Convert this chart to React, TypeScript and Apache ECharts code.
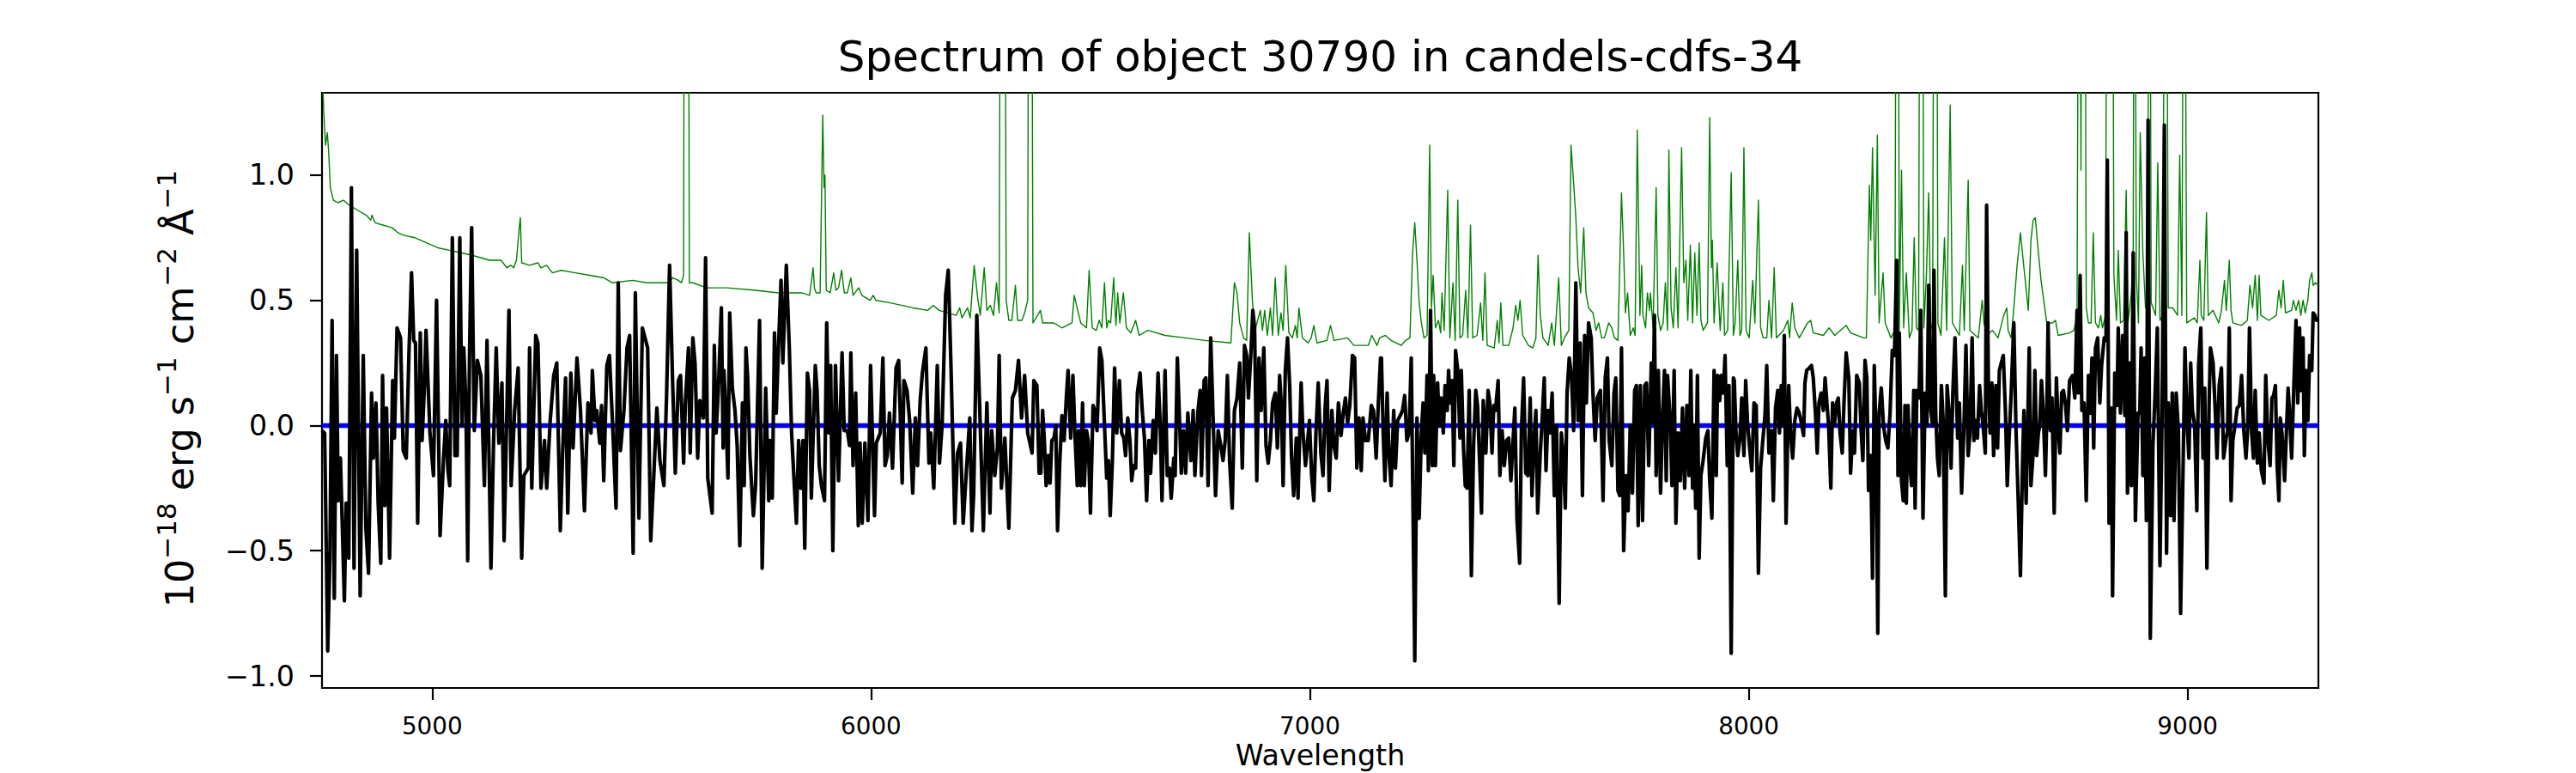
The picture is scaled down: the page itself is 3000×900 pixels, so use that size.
import React, { useEffect, useRef } from "react";
import * as echarts from "echarts";

const X_MIN = 4749;
const X_MAX = 9298;
const Y_MIN = -1.048;
const Y_MAX = 1.329;
const xTicks = [5000, 6000, 7000, 8000, 9000];
const yTicks = [-1, -0.5, 0, 0.5, 1];
const titleText = "Spectrum of object 30790 in candels-cdfs-34";
const xLabelText = "Wavelength";
const zeroLine = [[4749, 0], [9298, 0]];

const blackA = [[4749,-0.02],[4755,-0.03],[4762,-0.90],[4767,-0.53],[4772,0.42],[4777,-0.69],[4782,0.28],[4786,-0.30],[4791,-0.13],[4800,-0.70],[4804,-0.31],[4810,-0.53],[4816,0.95],[4822,-0.57],[4828,0.70],[4836,-0.68],[4843,0.28],[4849,-0.41],[4855,-0.59],[4862,0.13],[4866,-0.13],[4872,0.09],[4877,-0.31],[4883,-0.55],[4887,0.20],[4892,-0.32],[4896,0.07],[4903,-0.53],[4910,0.18],[4914,-0.05],[4920,0.39],[4928,0.35],[4934,-0.10],[4941,-0.13],[4947,0.28],[4953,0.61],[4958,0.34],[4962,0.33],[4967,-0.39],[4973,0.37],[4977,-0.06],[4982,0.14],[4986,0.38],[4995,-0.03],[5003,-0.20],[5010,0.50],[5018,-0.44],[5026,-0.13],[5031,0.02],[5036,-0.18],[5040,-0.24],[5046,0.75],[5052,-0.12],[5057,-0.12],[5063,0.75],[5068,0.00],[5072,0.31],[5077,0.09],[5081,-0.54],[5085,0.27],[5090,0.79],[5096,-0.02],[5103,0.26],[5111,0.20],[5119,-0.24],[5125,0.34],[5134,-0.57],[5140,-0.06],[5146,0.31],[5152,-0.07],[5159,0.17],[5164,-0.46],[5175,0.46],[5180,-0.24],[5188,0.06],[5196,0.23],[5204,-0.53],[5209,-0.20],[5219,-0.17],[5222,0.31],[5227,-0.25],[5236,0.36],[5241,0.33],[5248,-0.25],[5256,-0.06],[5261,-0.25],[5269,0.02],[5277,0.20],[5284,0.25],[5292,-0.42],[5297,-0.12],[5304,0.19],[5309,-0.35],[5316,0.21],[5321,-0.09],[5330,0.27],[5338,0.06],[5347,-0.34],[5355,0.09],[5362,-0.03],[5365,0.22],[5371,0.02],[5375,0.06],[5382,-0.07],[5386,0.08],[5391,-0.22],[5398,0.24],[5404,0.28],[5411,0.01],[5419,-0.33],[5424,0.57],[5429,-0.10],[5437,0.06],[5444,0.31],[5450,0.36],[5458,-0.51],[5463,0.53],[5471,-0.37],[5479,0.39],[5491,0.31],[5498,-0.46],[5504,-0.24],[5512,0.07],[5519,-0.14],[5528,-0.24],[5534,0.11],[5541,0.64],[5548,0.17],[5554,-0.19]];

const blackB = [[5561,0.18],[5566,0.20],[5573,-0.15],[5577,0.09],[5584,0.31],[5588,-0.11],[5594,0.35],[5599,0.25],[5605,-0.13],[5610,0.10],[5618,0.03],[5623,0.67],[5628,-0.21],[5638,-0.35],[5643,0.32],[5647,-0.03],[5652,0.14],[5659,0.47],[5663,-0.09],[5665,0.22],[5669,0.06],[5674,-0.21],[5678,0.45],[5684,0.15],[5690,0.06],[5695,-0.08],[5701,-0.48],[5707,0.09],[5711,-0.24],[5715,0.31],[5719,0.19],[5724,-0.12],[5732,-0.36],[5737,-0.24],[5746,0.42],[5752,-0.57],[5760,0.15],[5767,-0.30],[5770,-0.06],[5775,-0.29],[5780,0.37],[5784,0.05],[5789,0.31],[5795,0.58],[5799,0.25],[5807,0.64],[5814,0.30],[5819,-0.03],[5825,-0.23],[5830,-0.39],[5835,-0.06],[5840,-0.25],[5845,-0.06],[5849,-0.49],[5855,0.21],[5860,0.14],[5864,-0.29],[5873,0.24],[5877,0.14],[5882,-0.16],[5887,-0.24],[5894,-0.30],[5899,0.41],[5904,-0.03],[5908,0.24],[5913,-0.50],[5919,0.24],[5926,-0.22],[5934,0.29],[5939,-0.02],[5946,-0.02],[5951,-0.08],[5954,0.29],[5959,-0.16],[5965,0.13],[5971,-0.40],[5975,-0.07],[5980,-0.39],[5986,-0.07],[5993,-0.38],[5999,0.24],[6008,-0.36],[6012,-0.07],[6021,-0.03],[6027,0.27],[6032,-0.16],[6037,-0.12],[6042,0.05],[6049,-0.17],[6057,0.23],[6063,0.26],[6071,-0.23],[6075,0.18],[6082,0.14],[6088,0.02],[6095,-0.27],[6101,0.03],[6106,-0.16],[6112,0.10],[6117,0.21],[6125,0.31],[6132,-0.15],[6136,-0.03],[6143,-0.25],[6151,0.24],[6156,-0.15],[6162,0.00],[6170,0.52],[6176,0.62],[6182,0.25],[6191,-0.39],[6197,-0.11],[6204,-0.07],[6210,-0.39],[6217,-0.19],[6225,0.03],[6230,-0.42],[6234,-0.27],[6241,0.44],[6247,0.11],[6256,-0.42],[6264,0.09],[6271,-0.35],[6275,-0.02],[6282,-0.20],[6288,-0.09],[6292,0.28],[6297,-0.25],[6305,-0.05],[6314,-0.41],[6322,0.11],[6329,0.14],[6336,0.26],[6343,0.03],[6350,0.20],[6357,-0.03]];

const blackC = [[6362,-0.07],[6367,-0.11],[6371,0.18],[6378,0.16],[6383,-0.19],[6387,-0.19],[6391,0.06],[6395,-0.06],[6399,-0.24],[6404,-0.12],[6408,-0.23],[6412,-0.06],[6417,-0.05],[6421,0.0],[6425,-0.42],[6430,-0.15],[6435,0.04],[6440,-0.06],[6445,0.11],[6449,0.22],[6455,-0.05],[6460,0.20],[6465,-0.05],[6470,-0.24],[6473,-0.02],[6478,-0.24],[6482,0.09],[6486,-0.24],[6491,-0.02],[6495,-0.06],[6500,-0.35],[6506,0.08],[6510,0.06],[6515,-0.02],[6521,0.31],[6526,0.26],[6532,0.0],[6537,-0.21],[6541,-0.14],[6545,-0.36],[6550,-0.14],[6555,0.23],[6560,-0.03],[6566,0.18],[6571,-0.03],[6576,-0.05],[6580,-0.12],[6585,0.03],[6590,-0.06],[6594,-0.22],[6598,-0.16],[6603,-0.17],[6607,0.13],[6613,0.21],[6618,0.06],[6623,-0.05],[6628,-0.30],[6633,-0.06],[6637,-0.19],[6643,0.02],[6648,-0.11],[6654,0.21],[6659,0.0],[6663,-0.30],[6670,0.22],[6675,-0.20],[6680,-0.17],[6684,-0.29],[6690,-0.13],[6693,-0.20],[6698,0.27],[6703,0.02],[6707,-0.19],[6712,-0.02],[6717,-0.19],[6722,0.05],[6729,-0.14],[6734,0.06],[6738,-0.20],[6745,0.06],[6750,0.14],[6753,-0.20],[6759,0.18],[6763,0.19],[6768,-0.24],[6774,0.35],[6780,0.0],[6785,-0.28],[6791,-0.02],[6797,-0.08],[6802,-0.14],[6807,-0.06],[6812,0.20],[6817,-0.14],[6823,-0.33],[6828,0.06],[6834,0.11],[6840,0.25],[6846,-0.17],[6851,0.32],[6856,0.28],[6860,0.11],[6866,0.30],[6870,0.46],[6874,0.39],[6879,-0.22],[6884,0.27],[6889,0.06],[6895,0.31],[6900,-0.08],[6905,-0.15],[6910,-0.06],[6915,0.09],[6921,0.13],[6926,-0.09],[6931,0.20],[6935,0.08],[6939,-0.24],[6944,0.22],[6949,0.35],[6954,0.16],[6958,-0.12],[6963,-0.28],[6969,-0.05],[6973,-0.29],[6980,0.17],[6984,-0.02],[6990,-0.16],[6995,-0.06],[6999,0.02],[7004,-0.20],[7009,-0.30],[7014,-0.02],[7019,0.17],[7025,-0.11],[7030,-0.20],[7035,0.08],[7039,0.18],[7044,-0.26],[7050,0.06],[7055,-0.08],[7060,-0.13],[7065,0.09],[7071,-0.04],[7076,0.05],[7081,0.11],[7086,0.01],[7091,0.08],[7097,0.28],[7102,0.27],[7107,-0.17],[7112,0.03],[7117,-0.18],[7121,0.03],[7127,-0.06],[7133,-0.06],[7140,0.08],[7145,0.06],[7151,-0.13],[7156,0.09],[7161,0.27]];

const blackD = [[7163,0.27],[7167,-0.03],[7171,-0.22],[7176,0.13],[7180,-0.11],[7185,-0.24],[7191,0.06],[7195,-0.17],[7200,0.02],[7206,0.04],[7211,0.06],[7216,0.12],[7221,-0.06],[7226,-0.03],[7231,0.27],[7239,-0.94],[7244,0.03],[7249,-0.37],[7254,-0.03],[7258,0.09],[7262,-0.11],[7267,0.20],[7270,-0.18],[7275,0.46],[7279,-0.16],[7282,0.20],[7286,-0.16],[7291,0.17],[7295,0.0],[7299,0.11],[7304,-0.03],[7308,0.16],[7313,0.06],[7316,0.22],[7320,0.09],[7324,0.18],[7328,-0.16],[7332,0.30],[7337,0.22],[7342,-0.05],[7345,0.22],[7350,-0.09],[7354,-0.24],[7358,-0.25],[7363,0.14],[7368,-0.60],[7373,-0.08],[7378,0.14],[7382,0.08],[7386,-0.11],[7391,-0.35],[7395,0.10],[7401,-0.11],[7406,0.14],[7410,0.09],[7415,-0.11],[7419,0.08],[7423,0.06],[7429,0.18],[7433,-0.20],[7438,-0.02],[7443,-0.16],[7448,-0.06],[7453,-0.05],[7458,-0.22],[7463,-0.06],[7467,0.07],[7472,-0.38],[7478,-0.55],[7482,-0.02],[7487,0.19],[7492,-0.19],[7497,-0.20],[7502,0.11],[7506,-0.28],[7512,-0.02],[7515,0.06],[7519,-0.35],[7525,-0.11],[7530,0.05],[7534,0.19],[7538,-0.18],[7543,0.06],[7547,-0.03],[7552,0.13],[7557,-0.28],[7562,0.0],[7568,-0.71],[7573,-0.03],[7577,-0.11],[7582,-0.33],[7586,0.13],[7591,0.27],[7596,0.20],[7601,-0.02],[7606,0.57],[7611,0.02],[7616,0.33],[7621,-0.28],[7626,0.36],[7630,0.09],[7635,0.41],[7641,0.35],[7645,0.13],[7650,-0.06],[7655,0.11],[7662,0.14],[7668,-0.30],[7673,0.19],[7678,0.27],[7682,-0.06],[7688,-0.16],[7693,0.13],[7697,0.19],[7702,-0.26],[7706,-0.28],[7710,0.31],[7715,-0.50],[7720,-0.20],[7725,-0.34],[7730,0.0],[7735,-0.27],[7740,0.14],[7744,0.16],[7748,-0.40],[7753,0.16],[7758,-0.38],[7763,0.16],[7767,0.17],[7772,-0.16],[7778,0.25],[7782,0.01],[7785,0.44],[7789,-0.20],[7794,0.22],[7799,-0.27],[7804,0.05],[7808,0.22],[7812,-0.22],[7815,0.20],[7821,0.02],[7825,-0.24],[7830,0.22],[7834,-0.39],[7839,-0.03],[7844,-0.22],[7849,0.07],[7854,-0.25],[7859,0.08],[7864,-0.20],[7868,0.22],[7872,-0.25],[7876,0.0],[7879,-0.33],[7883,0.20],[7887,-0.53],[7891,-0.20],[7896,-0.14],[7902,-0.05],[7907,-0.02],[7911,-0.22],[7916,-0.37],[7921,0.22],[7926,-0.20],[7929,0.20],[7934,0.10],[7937,0.20],[7942,0.13],[7946,0.28],[7951,-0.16],[7955,0.16],[7960,-0.91],[7965,0.19]];

const blackE = [[7967,0.18],[7971,-0.03],[7975,-0.12],[7980,-0.05],[7984,0.11],[7989,-0.12],[7993,0.18],[7997,0.02],[8002,-0.09],[8007,-0.18],[8012,0.09],[8017,0.08],[8022,-0.59],[8027,-0.17],[8032,-0.06],[8037,0.04],[8041,0.24],[8046,-0.11],[8052,-0.02],[8056,-0.30],[8061,0.07],[8066,0.14],[8070,-0.03],[8074,0.16],[8078,0.0],[8081,0.36],[8085,-0.39],[8091,0.16],[8095,-0.02],[8100,-0.13],[8105,0.02],[8110,0.07],[8115,0.05],[8119,0.02],[8125,-0.04],[8128,0.17],[8132,0.22],[8138,0.23],[8143,0.24],[8147,0.19],[8152,0.05],[8156,-0.11],[8160,0.09],[8165,0.13],[8170,0.06],[8174,0.19],[8178,0.09],[8182,0.0],[8187,-0.25],[8191,0.09],[8195,0.0],[8200,0.09],[8204,0.11],[8208,-0.03],[8213,-0.11],[8217,0.09],[8222,0.29],[8228,0.19],[8232,-0.19],[8237,-0.02],[8241,-0.11],[8246,0.20],[8252,0.17],[8256,-0.02],[8260,-0.14],[8265,0.26],[8269,0.19],[8273,-0.26],[8278,-0.12],[8282,-0.61],[8286,0.24],[8290,-0.06],[8294,-0.83],[8297,0.05],[8302,0.15],[8307,0.0],[8312,-0.06],[8317,-0.09],[8322,0.05],[8327,0.30],[8332,0.28],[8337,0.66],[8340,-0.20],[8343,0.37],[8348,-0.22],[8352,-0.30],[8356,0.08],[8359,-0.31],[8363,0.08],[8367,-0.16],[8371,-0.24],[8376,0.14],[8379,-0.33],[8383,0.14],[8388,0.11],[8392,0.46],[8397,-0.37],[8402,0.13],[8406,0.0],[8410,0.56],[8415,0.06],[8419,0.0],[8422,0.62],[8426,0.05],[8430,-0.13],[8434,-0.20],[8439,0.16],[8443,0.02],[8448,-0.68],[8452,0.16],[8456,0.06],[8461,-0.17],[8465,0.13],[8470,0.35],[8476,-0.05],[8480,0.09],[8485,-0.27],[8490,-0.03],[8495,0.32],[8500,-0.12],[8504,-0.03],[8509,0.35],[8513,-0.06],[8517,0.02],[8521,-0.05],[8526,0.16],[8530,0.06],[8534,0.0],[8539,-0.11],[8542,0.88],[8546,0.18],[8550,-0.03],[8554,0.17],[8558,-0.12],[8563,0.16],[8567,-0.09],[8571,0.22]];

const blackF = [[8580,0.28],[8585,0.05],[8589,-0.24],[8593,-0.06],[8598,0.13],[8604,0.41],[8609,-0.02],[8614,-0.30],[8619,-0.60],[8624,-0.14],[8627,0.06],[8632,-0.31],[8635,-0.06],[8639,0.31],[8643,-0.24],[8648,-0.11],[8652,0.22],[8656,-0.12],[8660,-0.03],[8663,0.0],[8667,0.18],[8671,0.06],[8676,-0.20],[8679,0.03],[8682,0.41],[8687,-0.02],[8691,0.11],[8696,-0.35],[8701,0.19],[8705,0.0],[8709,-0.11],[8713,0.13],[8717,0.14],[8722,0.08],[8726,-0.02],[8731,0.18],[8738,0.20],[8743,0.11],[8748,0.46],[8751,0.13],[8755,0.60],[8759,0.06],[8764,0.09],[8769,-0.30],[8774,0.20],[8778,0.05],[8782,0.27],[8786,-0.09],[8790,0.31],[8795,0.35],[8800,0.09],[8804,0.24],[8810,0.35],[8814,0.34],[8817,1.06],[8821,-0.39],[8826,0.07],[8829,-0.68],[8834,0.21],[8839,0.08],[8842,0.39],[8847,0.05],[8852,0.36],[8857,0.04],[8860,0.77],[8863,-0.27],[8868,0.25],[8872,-0.24],[8876,0.69],[8881,-0.38],[8887,0.05],[8891,0.05],[8894,0.31],[8898,-0.20],[8902,0.27],[8906,-0.38],[8910,1.22],[8915,-0.85],[8921,-0.08],[8926,0.13],[8931,0.39],[8937,-0.56],[8942,0.06],[8947,1.20],[8952,-0.51],[8956,0.09],[8961,-0.36],[8965,0.13],[8969,-0.38],[8974,0.13],[8979,-0.02],[8984,-0.75],[8990,-0.13],[8994,0.31],[8999,0.0],[9003,-0.13],[9007,0.25],[9011,0.06],[9016,0.0],[9021,-0.34],[9025,0.24],[9030,0.39],[9035,-0.13],[9039,0.15],[9044,-0.57],[9049,0.09],[9052,0.31],[9058,0.25],[9063,0.06],[9067,-0.13],[9072,0.16],[9077,0.23],[9082,-0.13],[9087,-0.06],[9091,-0.02],[9095,0.39],[9099,-0.30],[9103,-0.06],[9108,0.0],[9113,0.07],[9118,0.08],[9123,0.20],[9128,-0.02],[9133,-0.13],[9137,-0.01],[9141,0.39],[9146,-0.03],[9150,-0.13],[9154,0.14],[9159,-0.15],[9163,-0.03],[9168,-0.18],[9174,-0.23],[9178,0.20],[9183,-0.06],[9188,-0.16],[9192,0.11],[9196,0.12],[9200,0.16],[9204,-0.16],[9208,-0.30],[9211,0.03],[9215,-0.03],[9221,-0.22],[9225,-0.03],[9229,0.15],[9232,0.06],[9237,-0.13],[9241,0.10],[9247,0.42],[9251,0.09],[9255,0.39],[9258,0.14],[9263,0.35],[9266,-0.12],[9270,0.22],[9274,0.02],[9278,0.28],[9283,0.22],[9286,0.45],[9290,0.44],[9294,0.42],[9298,0.42]];

const greenA = [[4749,1.45],[4753,1.25],[4757,1.12],[4761,1.17],[4764,1.10],[4768,0.95],[4775,0.90],[4785,0.89],[4798,0.90],[4811,0.88],[4830,0.86],[4850,0.84],[4860,0.82],[4863,0.84],[4870,0.81],[4889,0.80],[4909,0.79],[4922,0.77],[4935,0.76],[4961,0.75],[4987,0.73],[5013,0.71],[5039,0.70],[5065,0.69],[5091,0.68],[5131,0.66],[5157,0.66],[5170,0.63],[5179,0.64],[5186,0.63],[5192,0.66],[5199,0.80],[5201,0.83],[5204,0.65],[5222,0.64],[5241,0.65],[5248,0.63],[5261,0.64],[5274,0.61],[5294,0.62],[5326,0.61],[5359,0.60],[5391,0.59],[5411,0.57],[5457,0.58],[5489,0.57],[5522,0.57],[5538,0.57],[5548,0.59]];

const greenB = [[5561,0.58],[5568,0.57],[5573,0.60],[5575,3.0],[5583,3.0],[5586,0.57],[5594,0.57],[5626,0.55],[5672,0.55],[5737,0.54],[5789,0.53],[5842,0.53],[5860,0.52],[5866,0.60],[5868,0.63],[5871,0.55],[5875,0.53],[5884,0.53],[5890,1.24],[5893,0.95],[5895,1.0],[5898,0.54],[5907,0.53],[5915,0.61],[5920,0.54],[5926,0.55],[5933,0.62],[5939,0.53],[5946,0.53],[5954,0.59],[5959,0.52],[5972,0.55],[5979,0.52],[5998,0.50],[6005,0.52],[6011,0.50],[6044,0.49],[6096,0.47],[6129,0.46],[6142,0.48],[6155,0.46],[6194,0.44],[6202,0.47],[6207,0.43],[6220,0.47],[6226,0.43],[6235,0.64],[6243,0.51],[6249,0.44],[6258,0.63],[6264,0.46],[6272,0.48],[6279,0.44],[6286,0.57],[6292,0.45],[6296,3.0],[6304,3.0],[6308,0.50],[6314,0.42],[6321,0.42],[6329,0.56],[6334,0.42],[6344,0.42],[6350,0.45],[6357,0.50]];

const greenC = [[6360,3.0],[6365,3.0],[6369,0.41],[6376,0.43],[6386,0.46],[6391,0.41],[6416,0.41],[6435,0.39],[6458,0.41],[6463,0.52],[6471,0.46],[6478,0.41],[6491,0.39],[6497,0.62],[6504,0.39],[6513,0.38],[6520,0.42],[6526,0.39],[6532,0.57],[6537,0.39],[6541,0.42],[6546,0.41],[6553,0.59],[6558,0.40],[6562,0.53],[6567,0.41],[6575,0.53],[6582,0.39],[6592,0.37],[6603,0.42],[6611,0.36],[6631,0.38],[6670,0.36],[6716,0.35],[6761,0.34],[6820,0.33],[6828,0.57],[6834,0.53],[6840,0.41],[6849,0.35],[6856,0.34],[6862,0.77],[6869,0.50],[6875,0.38],[6887,0.46],[6892,0.38],[6897,0.46],[6903,0.36],[6910,0.47],[6915,0.36],[6921,0.59],[6928,0.36],[6934,0.45],[6939,0.38],[6945,0.64],[6952,0.37],[6960,0.35],[6967,0.40],[6971,0.35],[6975,0.47],[6983,0.35],[6996,0.33],[7003,0.35],[7009,0.40],[7016,0.33],[7039,0.34],[7047,0.40],[7055,0.34],[7086,0.35],[7100,0.32],[7133,0.32],[7141,0.36],[7153,0.32]];

const greenD = [[7159,0.35],[7172,0.36],[7185,0.34],[7208,0.32],[7218,0.34],[7228,0.35],[7234,0.69],[7239,0.81],[7244,0.66],[7249,0.49],[7254,0.41],[7260,0.35],[7267,0.36],[7273,1.12],[7277,0.47],[7281,0.60],[7286,0.39],[7293,0.42],[7298,0.37],[7301,0.53],[7306,0.38],[7314,0.94],[7319,0.35],[7326,0.57],[7331,0.34],[7337,0.90],[7342,0.35],[7348,0.36],[7355,0.54],[7360,0.35],[7366,0.80],[7371,0.35],[7381,0.36],[7389,0.49],[7394,0.34],[7399,0.61],[7404,0.32],[7420,0.31],[7427,0.42],[7431,0.33],[7435,0.49],[7440,0.32],[7453,0.32],[7463,0.39],[7469,0.48],[7474,0.42],[7479,0.50],[7485,0.36],[7498,0.32],[7508,0.31],[7515,0.35],[7520,0.68],[7525,0.44],[7531,0.35],[7543,0.32],[7551,0.41],[7557,0.32],[7567,0.59],[7573,0.32],[7580,0.35],[7590,0.38],[7595,1.12],[7602,0.94],[7606,0.83],[7611,0.63],[7617,0.53],[7624,0.79],[7629,0.53],[7635,0.47],[7645,0.45],[7652,0.38],[7658,0.41],[7665,0.35],[7671,0.35],[7681,0.41],[7688,0.39],[7694,0.35],[7702,0.34],[7710,0.93],[7715,0.69],[7719,0.45],[7724,0.53],[7730,0.36],[7737,0.39],[7741,0.36],[7746,1.18],[7752,0.44],[7756,0.64],[7759,0.44],[7765,0.39],[7769,0.53],[7774,0.46],[7776,0.53],[7782,0.39],[7789,0.95],[7793,0.44],[7799,0.38],[7805,0.41],[7810,0.57],[7815,0.38],[7818,1.10],[7823,0.47],[7828,0.39],[7834,0.63],[7839,0.39],[7847,1.11],[7852,0.57],[7857,0.66],[7861,0.42],[7867,0.72],[7872,0.41],[7877,0.69],[7882,0.44],[7887,0.73],[7891,0.42],[7896,0.38],[7906,0.41],[7911,1.23],[7915,0.63],[7917,0.74],[7921,0.41],[7928,0.65],[7932,0.49],[7935,0.38],[7941,0.57],[7945,0.36],[7952,0.38],[7960,1.01],[7965,0.36]];

const greenE = [[7969,0.41],[7975,0.66],[7980,0.36],[7984,0.38],[7989,1.11],[7994,0.38],[8001,0.35],[8009,0.58],[8014,0.41],[8022,0.90],[8027,0.39],[8033,0.35],[8041,0.35],[8046,0.50],[8052,0.35],[8058,0.63],[8063,0.35],[8079,0.38],[8089,0.42],[8093,0.35],[8099,0.49],[8105,0.39],[8115,0.35],[8134,0.41],[8141,0.42],[8147,0.37],[8170,0.36],[8183,0.39],[8196,0.36],[8222,0.40],[8232,0.37],[8262,0.35],[8268,0.35],[8275,0.96],[8278,0.74],[8282,1.11],[8288,0.52],[8293,1.16],[8297,0.41],[8306,0.61],[8311,0.41],[8324,0.35],[8333,0.38],[8337,3.0],[8340,3.0],[8343,0.38],[8348,1.02],[8353,0.39],[8359,0.61],[8366,0.35],[8372,0.38],[8377,0.75],[8382,0.39],[8387,0.38],[8391,3.0],[8395,3.0],[8399,0.39],[8405,0.61],[8410,0.93],[8415,0.38],[8419,0.41],[8423,3.0],[8427,3.0],[8431,0.41],[8438,0.36],[8446,0.75],[8451,0.38],[8459,1.28],[8464,0.41],[8480,0.36],[8487,0.64],[8491,0.38],[8500,0.98],[8504,0.38],[8523,0.35],[8532,0.50],[8536,0.41],[8542,0.36],[8555,0.38],[8568,0.35]];

const greenF = [[8581,0.44],[8588,0.47],[8591,0.38],[8598,0.35],[8604,0.47],[8611,0.63],[8619,0.77],[8627,0.63],[8637,0.46],[8643,0.74],[8648,0.82],[8653,0.83],[8660,0.69],[8666,0.58],[8673,0.49],[8679,0.41],[8692,0.41],[8699,0.42],[8705,0.36],[8731,0.37],[8741,0.38],[8748,0.44],[8753,3.0],[8757,1.02],[8760,3.0],[8765,3.0],[8769,0.47],[8774,0.41],[8780,0.41],[8785,0.77],[8790,0.41],[8797,0.39],[8802,0.44],[8806,0.39],[8813,0.44],[8817,3.0],[8823,3.0],[8828,3.0],[8832,0.60],[8838,0.42],[8842,0.70],[8847,0.41],[8854,0.42],[8860,0.94],[8864,0.41],[8872,0.53],[8876,0.71],[8879,3.0],[8883,0.60],[8888,0.41],[8892,1.17],[8898,0.69],[8904,0.47],[8909,0.47],[8913,3.0],[8917,0.49],[8927,0.44],[8932,1.05],[8937,0.42],[8943,0.44],[8950,3.0],[8956,0.47],[8966,0.47],[8977,0.44],[8982,1.08],[8987,0.44],[8992,3.0],[8998,0.41],[9015,0.43],[9022,0.41],[9028,0.66],[9031,0.44],[9037,0.42],[9043,0.85],[9047,0.44],[9058,0.46],[9071,0.41],[9077,0.46],[9084,0.58],[9088,0.46],[9095,0.66],[9099,0.46],[9103,0.41],[9123,0.40],[9136,0.42],[9142,0.56],[9148,0.47],[9154,0.60],[9159,0.42],[9163,0.60],[9167,0.44],[9185,0.42],[9202,0.44],[9208,0.54],[9213,0.47],[9218,0.58],[9223,0.45],[9237,0.46],[9241,0.50],[9247,0.46],[9253,0.50],[9258,0.44],[9263,0.50],[9268,0.45],[9274,0.50],[9278,0.58],[9283,0.61],[9286,0.56],[9291,0.57],[9298,0.56]];

const FONT = "DejaVu Sans";

export default function App() {
  const ref = useRef<HTMLDivElement>(null);
  useEffect(() => {
    if (!ref.current) return;
    const chart = echarts.init(ref.current, null, { renderer: "svg" });
    const black = [...blackA, ...blackB, ...blackC, ...blackD, ...blackE, ...blackF];
    const green = [...greenA, ...greenB, ...greenC, ...greenD, ...greenE, ...greenF];
    const minus = (v: number) => v.toFixed(1).replace("-", "\u2212");
    chart.setOption({
      animation: false,
      backgroundColor: "#ffffff",
      grid: {
        left: 375, top: 108, width: 2325, height: 693,
        containLabel: false, outerBoundsMode: "none",
        show: true, borderColor: "#000", borderWidth: 2.2, backgroundColor: "transparent",
      },
      xAxis: {
        type: "value", min: X_MIN, max: X_MAX,
        axisLine: { show: false, onZero: false },
        axisTick: { show: true, length: 14, lineStyle: { color: "#000", width: 2.2 }, customValues: xTicks },
        axisLabel: { customValues: xTicks, margin: 30, fontSize: 27.8, color: "#000", fontFamily: FONT, formatter: (v: number) => String(v) },
        splitLine: { show: false },
      },
      yAxis: {
        type: "value", min: Y_MIN, max: Y_MAX,
        axisLine: { show: false, onZero: false },
        axisTick: { show: true, length: 14, lineStyle: { color: "#000", width: 2.2 }, customValues: yTicks },
        axisLabel: { customValues: yTicks, margin: 32, fontSize: 33.3, color: "#000", fontFamily: FONT, formatter: minus },
        splitLine: { show: false },
      },
      series: [
        { type: "line", data: green, showSymbol: false, symbol: "none", clip: true, z: 1, silent: true,
          lineStyle: { color: "#008000", width: 1.4, join: "round" } },
        { type: "line", data: zeroLine, showSymbol: false, symbol: "none", clip: true, z: 2, silent: true,
          lineStyle: { color: "#0000ff", width: 5.5 } },
        { type: "line", data: black, showSymbol: false, symbol: "none", clip: true, z: 3, silent: true,
          lineStyle: { color: "#000000", width: 4.2, join: "round" } },
      ],
      graphic: [
        { type: "text", x: 1537.5, y: 65.7, silent: true,
          style: { text: titleText, fontSize: 50, fontFamily: FONT, fill: "#000", align: "center", verticalAlign: "middle" } },
        { type: "text", x: 1537.5, y: 879.5, silent: true,
          style: { text: xLabelText, fontSize: 33.3, fontFamily: FONT, fill: "#000", align: "center", verticalAlign: "middle" } },
        { type: "text", x: 209.6, y: 452.5, rotation: Math.PI / 2, silent: true,
          style: {
            text: "{m|10}{s|\u221218}{m| erg s}{s|\u22121}{m| cm}{s|\u22122}{m| \u00c5}{s|\u22121}",
            fontFamily: FONT, fill: "#000", align: "center", verticalAlign: "middle",
            rich: {
              m: { fontSize: 44.4, lineHeight: 62, verticalAlign: "middle", fontFamily: FONT, fill: "#000" },
              s: { fontSize: 31, lineHeight: 31, verticalAlign: "top", fontFamily: FONT, fill: "#000" },
            },
          } },
      ],
    });
    return () => chart.dispose();
  }, []);
  return (
    <div ref={ref} style={{ position: "fixed", left: 0, top: 0, width: 3000, height: 900, background: "#fff" }} />
  );
}
